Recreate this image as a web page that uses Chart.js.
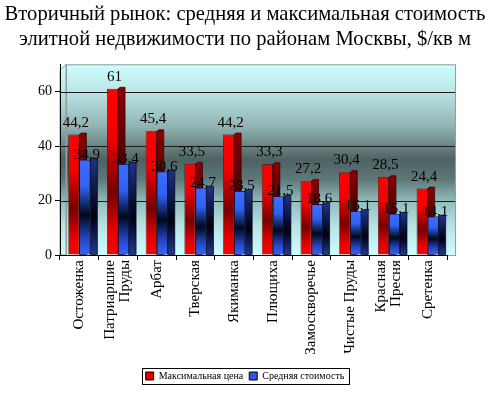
<!DOCTYPE html>
<html>
<head>
<meta charset="utf-8">
<script src="https://cdn.jsdelivr.net/npm/chart.js@4.4.0/dist/chart.umd.min.js"></script>
<style>
    html, body { margin: 0; padding: 0; background: #fff; }
    #wrap { width: 490px; height: 395px; }
</style>
</head>
<body>
<div id="wrap"><canvas id="grafico" width="490" height="395"></canvas></div>
<script>
const rayony = [
    "Остоженка", ["Патриаршие", "Пруды"], "Арбат", "Тверская", "Якиманка",
    "Плющиха", "Замоскворечье", "Чистые Пруды", ["Красная", "Пресня"], "Сретенка"
];
const maksCena = [44.2, 61, 45.4, 33.5, 44.2, 33.3, 27.2, 30.4, 28.5, 24.4];
const srednyaya = [34.9, 33.4, 30.6, 24.7, 23.5, 21.5, 18.6, 16.1, 15.1, 14.1];
const yTicks = [0, 20, 40, 60];
const nazvaniya = ["Максимальная цена", "Средняя стоимость"];
const titul = [
    "Вторичный рынок: средняя и максимальная стоимость",
    "элитной недвижимости по районам Москвы, $/кв м"
];

const SERIF = '"Liberation Serif", "Times New Roman", serif';

// градиенты как в экселевском шаблоне
const krasnyeStopy = [[0, "#ff0000"], [0.3, "#f20000"], [0.62, "#760000"], [0.86, "#e80000"], [1, "#ff0000"]];
const sinieStopy = [[0, "#3d6dff"], [0.28, "#3062f2"], [0.58, "#000818"], [0.82, "#2346c0"], [1, "#3366ff"]];
const krasnyiBok = [[0, "#8c0000"], [0.6, "#3c0000"], [1, "#9a0000"]];
const siniiBok = [[0, "#1d3282"], [0.6, "#000010"], [1, "#22398e"]];

function sdelatGradient(ctx, top, base, stops) {
    const g = ctx.createLinearGradient(0, top, 0, base);
    stops.forEach(([p, c]) => g.addColorStop(p, c));
    return g;
}

function zalivka(c, stops) {
    const chart = c.chart;
    if (!chart.chartArea || c.raw == null) return stops[0][1];
    const y = chart.scales.y;
    return sdelatGradient(chart.ctx, y.getPixelForValue(c.raw), y.getPixelForValue(0), stops);
}

function formatChisla(v) {
    return String(v).replace(".", ",");
}

// задняя и левая стенка + линии сетки
const stenka = {
    id: "stenka",
    beforeDraw(chart) {
        const { ctx, chartArea: a } = chart;
        const right = a.right + 8;
        const d = 6;
        const g = sdelatGradient(ctx, a.top, a.bottom, [
            [0, "#ccffff"], [0.14, "#bde6e6"], [0.33, "#8fb2b2"], [0.5, "#4e6262"],
            [0.6, "#5d7777"], [0.72, "#93bcbc"], [0.85, "#b9e2e2"], [1, "#ccffff"]
        ]);
        ctx.save();
        ctx.fillStyle = g;
        ctx.fillRect(a.left + d, a.top, right - a.left - d, a.bottom - a.top);
        ctx.beginPath();
        ctx.moveTo(a.left, a.top + d);
        ctx.lineTo(a.left + d, a.top);
        ctx.lineTo(a.left + d, a.bottom);
        ctx.lineTo(a.left, a.bottom);
        ctx.closePath();
        ctx.fill();
        ctx.strokeStyle = "#9a9a9a";
        ctx.lineWidth = 1;
        ctx.strokeRect(a.left + d + 0.5, a.top + 0.5, right - a.left - d, a.bottom - a.top);
        ctx.stroke();
        ctx.restore();
    },
    beforeDatasetsDraw(chart) {
        const { ctx, chartArea: a, scales } = chart;
        ctx.save();
        ctx.strokeStyle = "#1a1a1a";
        ctx.lineWidth = 1;
        yTicks.filter(v => v > 0).forEach(v => {
            const y = Math.round(scales.y.getPixelForValue(v)) + 0.5;
            ctx.beginPath();
            ctx.moveTo(a.left, y);
            ctx.lineTo(a.right + 8, y);
            ctx.stroke();
        });
        ctx.restore();
    }
};

// боковые грани столбиков, подписи, рамка легенды
const obyom = {
    id: "obyom",
    afterDatasetsDraw(chart) {
        const ctx = chart.ctx;
        const krasnye = chart.getDatasetMeta(0).data;
        const sinie = chart.getDatasetMeta(1).data;

        function bok(bar, stops, stroke) {
            const { x, y, base, width } = bar.getProps(["x", "y", "base", "width"], true);
            const r = x + width / 2;
            ctx.fillStyle = sdelatGradient(ctx, y, base, stops);
            ctx.beginPath();
            ctx.moveTo(r, y);
            ctx.lineTo(r + 2, y - 1.5);
            ctx.lineTo(r + 7, y - 1.5);
            ctx.lineTo(r + 7, base);
            ctx.lineTo(r, base);
            ctx.closePath();
            ctx.fill();
            ctx.strokeStyle = stroke;
            ctx.lineWidth = 0.7;
            ctx.stroke();
        }

        ctx.save();
        krasnye.forEach((bar, i) => {
            bok(bar, krasnyiBok, "#2a0000");
            sinie[i].draw(ctx);
            bok(sinie[i], siniiBok, "#000022");
        });

        ctx.fillStyle = "#000";
        ctx.font = "15px " + SERIF;
        ctx.textAlign = "center";
        ctx.textBaseline = "alphabetic";
        krasnye.forEach((bar, i) => {
            ctx.fillText(formatChisla(maksCena[i]), bar.x + 2, bar.y - 8);
        });
        sinie.forEach((bar, i) => {
            ctx.fillText(formatChisla(srednyaya[i]), bar.x + 2, bar.y - 1);
        });
        ctx.restore();
    },
    afterDraw(chart) {
        const ctx = chart.ctx;

        // подписи районов: повернуты, строки центрированы на тике
        const sx = chart.scales.x;
        ctx.save();
        ctx.fillStyle = "#000";
        ctx.font = "15px " + SERIF;
        ctx.textAlign = "right";
        ctx.textBaseline = "middle";
        rayony.forEach((lab, i) => {
            const stroki = Array.isArray(lab) ? lab : [lab];
            const px = sx.getPixelForTick(i);
            stroki.forEach((t, j) => {
                const cx = px + (j - (stroki.length - 1) / 2) * 15;
                ctx.save();
                ctx.translate(cx, sx.top + 5);
                ctx.rotate(-Math.PI / 2);
                ctx.fillText(t, 0, 0);
                ctx.restore();
            });
        });
        ctx.restore();

        const boxes = chart.legend && chart.legend.legendHitBoxes;
        if (!boxes || !boxes.length) return;
        const left = Math.min(...boxes.map(b => b.left)) - 4;
        const right = Math.max(...boxes.map(b => b.left + b.width)) + 4;
        const top = boxes[0].top - 3;
        const h = boxes[0].height + 6;
        ctx.save();
        ctx.strokeStyle = "#000";
        ctx.lineWidth = 1;
        ctx.strokeRect(Math.round(left) + 0.5, Math.round(top) + 0.5, Math.round(right - left), Math.round(h));
        ctx.restore();
    }
};

const ctxGrafik = document.getElementById("grafico").getContext("2d");

const grafik = new Chart(ctxGrafik, {
    type: "bar",
    data: {
        labels: rayony,
        datasets: [
            {
                label: nazvaniya[0],
                data: maksCena,
                backgroundColor: c => zalivka(c, krasnyeStopy),
                borderColor: "#3a0000",
                borderWidth: 0.7,
                categoryPercentage: 0.57,
                barPercentage: 1
            },
            {
                label: nazvaniya[1],
                data: srednyaya,
                backgroundColor: c => zalivka(c, sinieStopy),
                borderColor: "#000030",
                borderWidth: 0.7,
                categoryPercentage: 0.57,
                barPercentage: 1
            }
        ]
    },
    options: {
        responsive: false,
        animation: false,
        events: [],
        layout: { padding: { left: 0, right: 0, top: 0, bottom: 4 } },
        plugins: {
            title: {
                display: true,
                text: titul,
                color: "#000",
                font: { family: SERIF, size: 20.6, weight: "normal", lineHeight: 1.22 },
                padding: { top: 2, bottom: 12 }
            },
            legend: {
                position: "bottom",
                labels: {
                    color: "#000",
                    font: { family: SERIF, size: 10 },
                    boxWidth: 8,
                    boxHeight: 8,
                    padding: 6,
                    generateLabels: () => [
                        { text: nazvaniya[0], fillStyle: "#e00000", strokeStyle: "#000", lineWidth: 1, datasetIndex: 0, hidden: false },
                        { text: nazvaniya[1], fillStyle: "#3355dd", strokeStyle: "#000", lineWidth: 1, datasetIndex: 1, hidden: false }
                    ]
                }
            },
            tooltip: { enabled: false }
        },
        scales: {
            x: {
                grid: { drawOnChartArea: false, offset: true, tickLength: 5, color: "#000" },
                border: { color: "#000" },
                ticks: { display: false, autoSkip: false },
                afterFit: s => { s.height = 110; }
            },
            y: {
                min: 0,
                max: 70,
                afterBuildTicks: s => { s.ticks = yTicks.map(v => ({ value: v })); },
                grid: { drawOnChartArea: false, tickLength: 5, color: "#000" },
                border: { color: "#000" },
                ticks: {
                    color: "#000",
                    padding: 3,
                    font: { family: SERIF, size: 14 }
                },
                afterFit: s => { s.width = 60; }
            },
            // пустая ось справа — только чтобы оставить поле под стенку
            poleSprava: {
                type: "linear",
                position: "right",
                grid: { display: false },
                border: { display: false },
                ticks: { display: false },
                afterFit: s => { s.width = 43; }
            }
        }
    },
    plugins: [stenka, obyom]
});
</script>
</body>
</html>
